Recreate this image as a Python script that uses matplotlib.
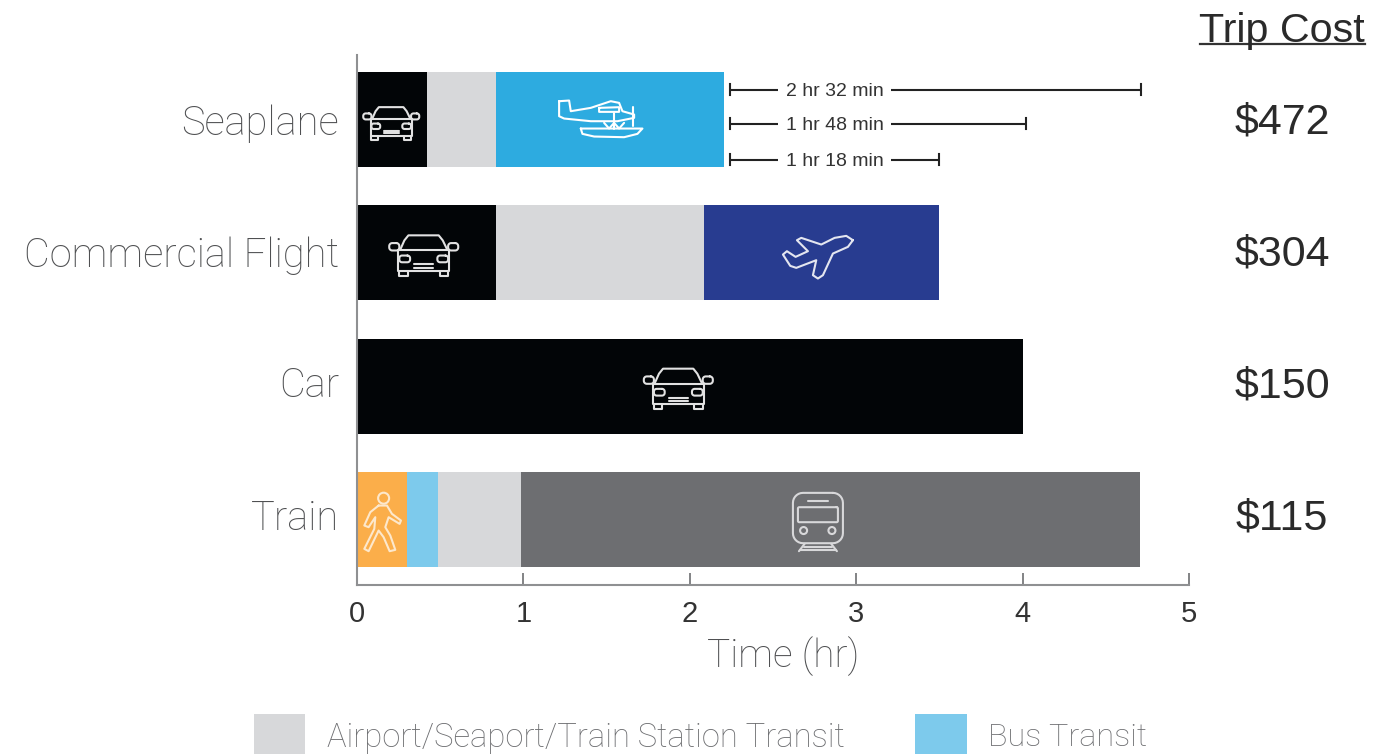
import matplotlib
matplotlib.use("Agg")
import matplotlib.pyplot as plt
import numpy as np
from matplotlib.patches import Circle, Rectangle
from matplotlib.transforms import Affine2D

# === Data ===
modes = ["Seaplane", "Commercial Flight", "Car", "Train"]
trip_costs = ["$472", "$304", "$150", "$115"]

car_hr = [0.42, 0.835, 4.0, 0.0]
walk_hr = [0.0, 0.0, 0.0, 0.30]
bus_hr = [0.0, 0.0, 0.0, 0.187]
station_hr = [0.415, 1.25, 0.0, 0.50]
seaplane_hr = [1.37, 0.0, 0.0, 0.0]
flight_hr = [0.0, 1.415, 0.0, 0.0]
train_hr = [0.0, 0.0, 0.0, 3.72]

diff_labels = ["2 hr 32 min", "1 hr 48 min", "1 hr 18 min"]
diff_start = 2.24
diff_end = [4.71, 4.02, 3.50]

# === Style ===
W, H = 1392, 756
FONT = "Liberation Sans"
LIGHT_FONT = "Roboto"
TEXT_GREY = "#4f5052"
BLACK = "#020507"
STATION = "#d7d8da"
BUS = "#7dcaec"

plt.rcParams["font.family"] = [FONT, "DejaVu Sans"]
fig = plt.figure(figsize=(W / 100, H / 100), dpi=100)
ax = fig.add_axes([357 / W, 1 - 585 / H, 832 / W, 530 / H])

segments = [
    (car_hr, BLACK),
    (walk_hr, "#fbae4a"),
    (bus_hr, BUS),
    (station_hr, STATION),
    (seaplane_hr, "#2dabe0"),
    (flight_hr, "#283c90"),
    (train_hr, "#6d6e71"),
]
# seaplane and flight have the car leg first, train starts with the walk
y = np.arange(len(modes))
left = np.zeros(len(modes))
for values, color in segments:
    ax.barh(y, values, left=left, height=0.7125, color=color, linewidth=0)
    left += np.array(values)

ax.set_xlim(0, 5)
ax.set_ylim(3.491, -0.484)
for side in ["top", "right"]:
    ax.spines[side].set_visible(False)
for side in ["left", "bottom"]:
    ax.spines[side].set_color("#8f9092")
    ax.spines[side].set_linewidth(1.5)

ax.set_yticks(y, modes)
ax.tick_params(axis="y", length=0, pad=13, labelsize=28.7, labelcolor=TEXT_GREY)
ax.set_xticks(range(6))
ax.tick_params(axis="x", direction="in", length=9, width=1.2, color="#6d6e71",
               pad=10.5, labelsize=21, labelcolor="#333333")
ax.set_xlabel("Time (hr)", fontsize=28, color=TEXT_GREY, labelpad=6.5, x=0.512)
for lab in ax.get_yticklabels() + [ax.xaxis.label]:
    lab.set_family(LIGHT_FONT)
    lab.set_fontweight("light")

# The row labels sit slightly tighter than the bars in the source
row_shift_px = [0, 1, 4, 5]
for lab, shift in zip(ax.get_yticklabels(), row_shift_px):
    lab.set_transform(lab.get_transform() + Affine2D().translate(0, shift))

# Time differences next to the seaplane bar
diff_y = [-0.225, 0.03, 0.30]
for label, end, dy in zip(diff_labels, diff_end, diff_y):
    ax.plot([diff_start, 2.53], [dy, dy], color="#222222", lw=1.5, solid_capstyle="butt")
    ax.plot([3.21, end], [dy, dy], color="#222222", lw=1.5, solid_capstyle="butt")
    for xc in (diff_start, end):
        ax.plot([xc, xc], [dy - 0.04, dy + 0.04], color="#222222", lw=1.5)
    ax.text(2.87, dy + 0.012, label, ha="center", va="center", fontsize=14, color="#333333")

# Trip cost column
fig.text(1282 / W, 1 - 31 / H, "Trip Cost", ha="center", va="center", fontsize=29.7, color="#2a2a2a")
fig.add_artist(plt.Line2D([1200 / W, 1365 / W], [1 - 44 / H] * 2, color="#333333", lw=1.6))
cost_y_px = [123, 255, 386, 518]
for ypx, cost in zip(cost_y_px, trip_costs):
    fig.text(1282 / W, 1 - ypx / H, cost, ha="center", va="center", fontsize=31, color="#2a2a2a")

# Legend, cut by the bottom of the picture like the source
fig.add_artist(Rectangle((254 / W, 1 - 754 / H), 51 / W, 40 / H, color=STATION, lw=0,
                         transform=fig.transFigure))
fig.add_artist(Rectangle((915 / W, 1 - 754 / H), 52 / W, 40 / H, color=BUS, lw=0,
                         transform=fig.transFigure))
fig.text(327 / W, 1 - 738 / H, "Airport/Seaport/Train Station Transit", va="center",
         fontsize=23.6, color="#6d6e71", family=LIGHT_FONT, fontweight="light")
fig.text(988 / W, 1 - 738 / H, "Bus Transit", va="center", fontsize=23.3, color="#6d6e71",
         family=LIGHT_FONT, fontweight="light")


# === Icons, outlines in local pixels with y pointing down ===
def rounded_box(x0, y0, x1, y1, r):
    t = np.linspace(0, np.pi / 2, 8)
    corners = [(x1 - r, y0 + r, -np.pi / 2), (x1 - r, y1 - r, 0),
               (x0 + r, y1 - r, np.pi / 2), (x0 + r, y0 + r, np.pi)]
    pts = []
    for cx, cy, a in corners:
        pts += [(cx + r * np.cos(a + u), cy + r * np.sin(a + u)) for u in t]
    return pts + [pts[0]]


def car_icon():
    c = lambda pts: [((a - 127) / 205, (b - 100) / 205) for a, b in pts]
    lines = [
        c([(58, 82), (70, 55), (82, 40), (172, 40), (184, 55), (197, 82)]),
        c([(52, 85), (203, 85)]),
        c([(52, 85), (52, 145), (203, 145), (203, 85)]),
        c(rounded_box(25, 63, 55, 85, 9)),
        c(rounded_box(200, 63, 230, 85, 9)),
        c([(55, 145), (55, 160), (80, 160), (80, 145)]),
        c([(175, 145), (175, 160), (200, 160), (200, 145)]),
        c(rounded_box(55, 100, 87, 120, 8)),
        c(rounded_box(168, 100, 200, 120, 8)),
        c([(100, 126), (155, 126)]),
        c([(100, 136), (155, 136)]),
    ]
    return lines, []


def seaplane_icon():
    c = lambda pts: [((a - 750) / 3, (b - 185) / 3) for a, b in pts]
    lines = [
        c([(625, 130), (655, 128), (660, 160), (720, 150), (750, 140), (780, 130), (805, 135),
           (815, 160), (850, 170), (850, 180), (800, 190), (720, 190), (640, 182), (625, 175), (625, 130)]),
        c([(745, 150), (805, 148), (805, 162), (745, 162), (745, 150)]),
        c([(848, 148), (848, 205)]),
        c([(790, 165), (790, 212)]),
        c([(760, 195), (775, 212), (790, 195), (805, 212), (820, 195)]),
        c([(690, 212), (875, 212), (860, 228), (820, 238), (730, 236), (695, 228), (690, 212)]),
    ]
    return lines, []


def flight_icon():
    c = lambda pts: [((a - 150) / 3, (b - 95) / 3) for a, b in pts]
    lines = [c([(250, 45), (230, 32), (195, 38), (155, 58), (95, 38), (82, 45), (115, 78), (78, 95),
                (52, 78), (40, 88), (62, 122), (80, 128), (140, 105), (130, 150), (145, 160),
                (160, 150), (190, 85), (235, 65), (250, 45)])]
    return lines, []


def walker_icon():
    c = lambda pts: [((a - 95) / 3, (b - 175) / 3) for a, b in pts]
    lines = [c([(85, 125), (110, 125), (125, 150), (152, 170), (148, 180), (115, 160), (105, 190),
                (120, 215), (135, 258), (118, 262), (100, 220), (85, 200), (55, 262), (42, 255),
                (72, 195), (75, 160), (55, 190), (42, 185), (60, 145), (85, 125)])]
    return lines, [((100 - 95) / 3, (103 - 175) / 3, 5.5)]


def train_icon():
    c = lambda pts: [((a - 1405) / 3, (b - 185) / 3) for a, b in pts]
    lines = [
        c(rounded_box(1330, 97, 1480, 248, 30)),
        c(rounded_box(1345, 140, 1465, 185, 4)),
        c([(1375, 120), (1435, 120)]),
        c([(1365, 250), (1348, 272)]),
        c([(1445, 250), (1462, 272)]),
        c([(1362, 258), (1448, 258)]),
        c([(1350, 268), (1460, 268)]),
    ]
    circles = [((1362 - 1405) / 3, (210 - 185) / 3, 3.5), ((1447 - 1405) / 3, (210 - 185) / 3, 3.5)]
    return lines, circles


def draw_icon(shape, x_data, y_data, scale=1.0, color="white", lw=1.5):
    cx, cy = ax.transData.transform((x_data, y_data))
    tr = Affine2D().scale(scale, -scale).translate(cx, cy)
    lines, circles = shape
    for line in lines:
        xs, ys = zip(*line)
        ax.add_line(plt.Line2D(xs, ys, color=color, lw=lw, transform=tr, clip_on=False,
                               solid_joinstyle="round", solid_capstyle="round"))
    for ccx, ccy, r in circles:
        ax.add_patch(Circle((ccx, ccy), r, fill=False, ec=color, lw=lw, transform=tr, clip_on=False))


draw_icon(car_icon(), 0.205, 0.03, scale=56, color="#e2e2e2")
draw_icon(seaplane_icon(), 1.465, 0.0, scale=1.0)
draw_icon(car_icon(), 0.40, 1.02, scale=69, color="#e2e2e2")
draw_icon(flight_icon(), 2.78, 1.03, scale=1.0, color="#e4e6f0")
draw_icon(car_icon(), 1.93, 2.02, scale=69, color="#e2e2e2")
draw_icon(walker_icon(), 0.15, 3.02, scale=1.0, color="#fde8cc")
draw_icon(train_icon(), 2.77, 3.02, scale=1.0, color="#d8d8da")

fig.savefig("out.png", dpi=100)
